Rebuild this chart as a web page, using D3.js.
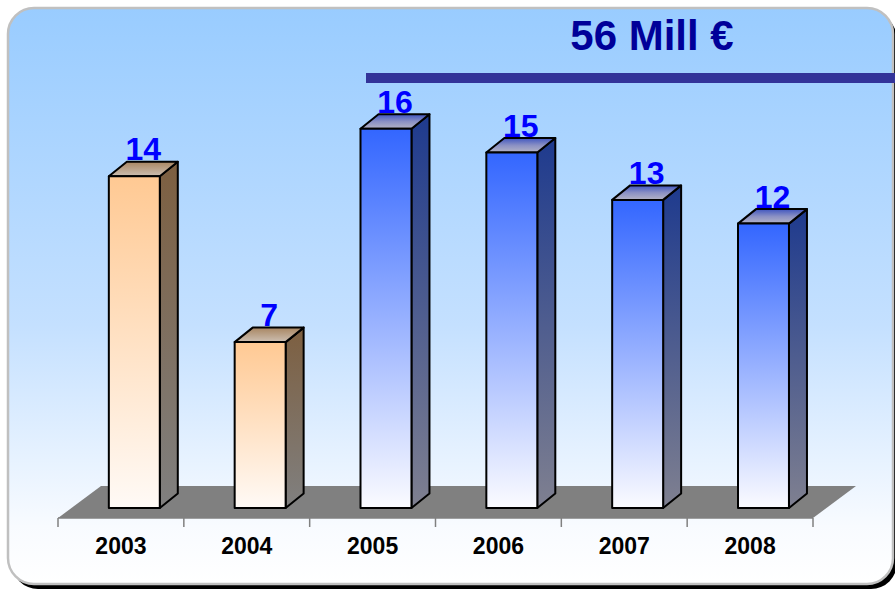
<!DOCTYPE html>
<html>
<head>
<meta charset="utf-8">
<script src="https://cdn.jsdelivr.net/npm/d3@7"></script>
<style>
  html, body { margin: 0; padding: 0; background: #ffffff; }
  svg { display: block; }
</style>
</head>
<body>
<svg id="chart" width="895" height="590"></svg>
<script>
// Yearly amounts (Mill €); 2003–2004 realised, 2005–2008 planned
const years = ["2003", "2004", "2005", "2006", "2007", "2008"];
const values = [14, 7, 16, 15, 13, 12];
const groups = ["past", "past", "plan", "plan", "plan", "plan"];
const totalLabel = "56 Mill €";

const W = 895, H = 590;
const svg = d3.select("#chart");
const defs = svg.append("defs");

function vGrad(id, stops) {
  const g = defs.append("linearGradient").attr("id", id)
    .attr("x1", 0).attr("y1", 0).attr("x2", 0).attr("y2", 1);
  stops.forEach(([o, c]) => g.append("stop").attr("offset", o).attr("stop-color", c));
}
vGrad("bg", [[0, "#99ccff"], [0.55, "#c4e0ff"], [0.9, "#f8fbff"], [1, "#ffffff"]]);
vGrad("front-past", [[0, "#ffc993"], [1, "#fffaf6"]]);
vGrad("side-past", [[0, "#7d5f40"], [1, "#808080"]]);
vGrad("top-past", [[0, "#a88662"], [1, "#cdbfb2"]]);
vGrad("front-plan", [[0, "#3366ff"], [1, "#fbfbff"]]);
vGrad("side-plan", [[0, "#1e3a8e"], [1, "#7f8090"]]);
vGrad("top-plan", [[0, "#3f55c0"], [0.5, "#8a90c4"], [1, "#b4b4c6"]]);

// Panel with drop shadow
svg.append("rect").attr("x", 12).attr("y", 13).attr("width", 885).attr("height", 576)
  .attr("rx", 26).attr("fill", "#000000");
svg.append("rect").attr("x", 8).attr("y", 8).attr("width", 885).attr("height", 576)
  .attr("rx", 26).attr("fill", "url(#bg)").attr("stroke", "#c0c0c0").attr("stroke-width", 2.5);

// Scales
const x = d3.scaleBand().domain(years).range([58, 813]).padding(0);
const y = d3.scaleLinear().domain([0, 20]).range([508, 34]);

// Depth offsets for floor and bars
const floorY = 518, fdx = 43, fdy = -32;
const bdx = 18, bdy = -14.5;
const barShift = 13.4;                 // bars sit part way back on the floor
const barW = x.bandwidth() * 0.405;

// Floor
const [x0, x1] = x.range();
svg.append("polygon")
  .attr("points", [[x0, floorY], [x1, floorY], [x1 + fdx, floorY + fdy], [x0 + fdx, floorY + fdy]].join(" "))
  .attr("fill", "#808080");

// Axis line with ticks at band edges
const axisG = svg.append("g");
axisG.append("line").attr("x1", x0).attr("x2", x1).attr("y1", floorY).attr("y2", floorY)
  .attr("stroke", "#808080").attr("stroke-width", 1.5);
const edges = years.map(d => x(d)).concat([x1]);
axisG.selectAll("line.tick").data(edges).join("line").attr("class", "tick")
  .attr("x1", d => d).attr("x2", d => d).attr("y1", floorY).attr("y2", floorY + 9)
  .attr("stroke", "#808080").attr("stroke-width", 1.5);

// Year labels
svg.append("g").attr("transform", `translate(0,${floorY})`)
  .call(d3.axisBottom(x).tickSize(0).tickPadding(0))
  .call(g => g.select(".domain").remove())
  .call(g => g.selectAll("text")
    .attr("dy", 0).attr("y", 36)
    .attr("font-family", "'Liberation Sans', Arial, sans-serif")
    .attr("font-weight", "bold").attr("font-size", 23).attr("fill", "#000000"));

// Bars
const data = years.map((yr, i) => ({ yr, v: values[i], g: groups[i] }));
const bars = svg.append("g").selectAll("g").data(data).join("g");
bars.each(function (d) {
  const g = d3.select(this);
  const bx = x(d.yr) + barShift + (x.bandwidth() - barW) / 2;
  const yb = y(0), yt = y(d.v);
  const common = sel => sel.attr("stroke", "#000000").attr("stroke-width", 2).attr("stroke-linejoin", "round");
  g.append("polygon")
    .attr("points", [[bx + barW, yb], [bx + barW + bdx, yb + bdy], [bx + barW + bdx, yt + bdy], [bx + barW, yt]].join(" "))
    .attr("fill", `url(#side-${d.g})`).call(common);
  g.append("polygon")
    .attr("points", [[bx, yt], [bx + bdx, yt + bdy], [bx + barW + bdx, yt + bdy], [bx + barW, yt]].join(" "))
    .attr("fill", `url(#top-${d.g})`).call(common);
  g.append("rect").attr("x", bx).attr("y", yt).attr("width", barW).attr("height", yb - yt)
    .attr("fill", `url(#front-${d.g})`).call(common);
  g.append("text")
    .attr("x", bx + barW / 2 + bdx / 2).attr("y", yt - 16)
    .attr("text-anchor", "middle")
    .attr("font-family", "'Liberation Sans', Arial, sans-serif")
    .attr("font-weight", "bold").attr("font-size", 32).attr("fill", "#0000ff")
    .text(d.v);
});

// Total over the planned years
svg.append("rect").attr("x", 366).attr("y", 73).attr("width", W - 366).attr("height", 10)
  .attr("fill", "#333399");
svg.append("text").attr("x", 652).attr("y", 50).attr("text-anchor", "middle")
  .attr("font-family", "'Liberation Sans', Arial, sans-serif")
  .attr("font-weight", "bold").attr("font-size", 42).attr("fill", "#000099")
  .text(totalLabel);
</script>
</body>
</html>
